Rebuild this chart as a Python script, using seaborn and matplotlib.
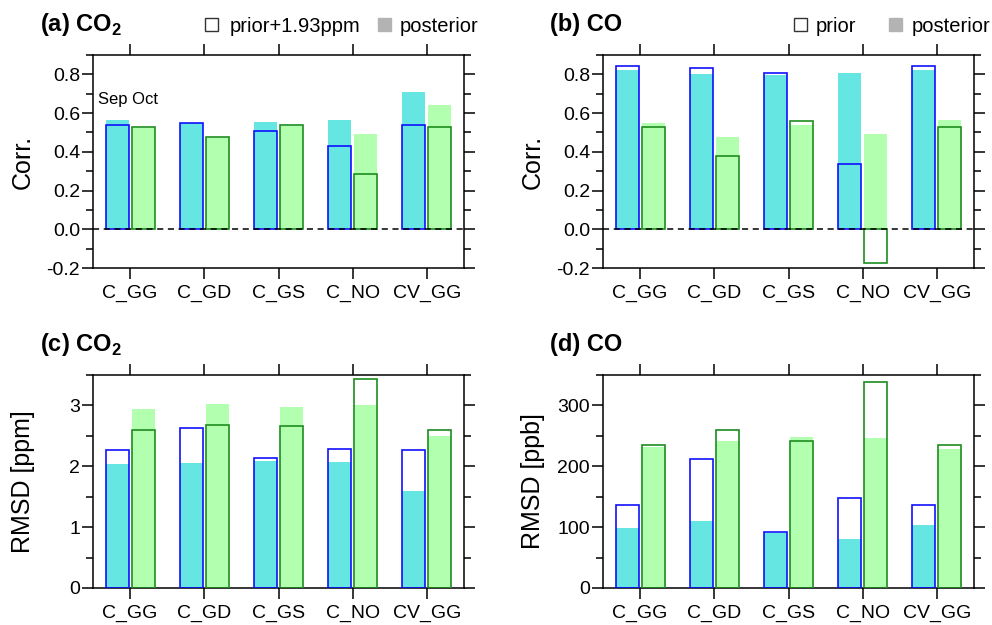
import numpy as np
import pandas as pd
import matplotlib
matplotlib.use("Agg")
import matplotlib.pyplot as plt
from matplotlib.patches import Rectangle
from matplotlib.ticker import MultipleLocator, FuncFormatter
import seaborn as sns

# ---------------- data ----------------
sites = ["C_GG", "C_GD", "C_GS", "C_NO", "CV_GG"]
months = ["Sep", "Oct"]

# (a) CO2 correlation
a_prior_sep = [0.54, 0.55, 0.51, 0.43, 0.54]
a_post_sep = [0.565, 0.55, 0.555, 0.565, 0.71]
a_prior_oct = [0.53, 0.475, 0.54, 0.285, 0.53]
a_post_oct = [0.525, 0.47, 0.535, 0.49, 0.643]

# (b) CO correlation
b_prior_sep = [0.843, 0.833, 0.805, 0.335, 0.843]
b_post_sep = [0.825, 0.80, 0.797, 0.805, 0.82]
b_prior_oct = [0.53, 0.38, 0.56, -0.176, 0.53]
b_post_oct = [0.548, 0.475, 0.537, 0.49, 0.565]

# (c) CO2 RMSD [ppm]
c_prior_sep = [2.27, 2.63, 2.13, 2.29, 2.27]
c_post_sep = [2.045, 2.055, 2.08, 2.07, 1.60]
c_prior_oct = [2.59, 2.68, 2.66, 3.43, 2.59]
c_post_oct = [2.94, 3.02, 2.98, 3.01, 2.50]

# (d) CO RMSD [ppb]
d_prior_sep = [136, 212, 92, 148, 136]
d_post_sep = [98, 110, 91, 80, 103]
d_prior_oct = [235, 259, 242, 338, 235]
d_post_oct = [232, 242, 248, 246, 229]

# ---------------- style ----------------
sns.set_style("ticks")
plt.rcParams["font.family"] = ["Liberation Sans", "DejaVu Sans"]
plt.rcParams["axes.unicode_minus"] = False
plt.rcParams["mathtext.fontset"] = "custom"
plt.rcParams["mathtext.rm"] = "Liberation Sans"
plt.rcParams["mathtext.bf"] = "Liberation Sans:bold"
plt.rcParams["text.color"] = "black"
plt.rcParams["axes.labelcolor"] = "black"
plt.rcParams["xtick.color"] = "black"
plt.rcParams["ytick.color"] = "black"

FILL_COLORS = ["#66e6e3", "#b3ffb0"]
EDGE_COLORS = ["#1010ff", "#1e8c1e"]

W, H = 992, 625
fig = plt.figure(figsize=(W / 100, H / 100), dpi=100)


def fx(px):
    return px / W


def fy(py):
    return 1 - py / H


def make_df(prior_sep, post_sep, prior_oct, post_oct):
    rows = []
    for i, s in enumerate(sites):
        rows.append({"site": s, "month": "Sep", "prior": prior_sep[i], "post": post_sep[i]})
    for i, s in enumerate(sites):
        rows.append({"site": s, "month": "Oct", "prior": prior_oct[i], "post": post_oct[i]})
    return pd.DataFrame(rows)


panels = [
    (93, 55, make_df(a_prior_sep, a_post_sep, a_prior_oct, a_post_oct), (-0.2, 0.9), 0.2, 0.1,
     "Corr.", r"(a) CO$_\mathbf{2}$", True, "{:.1f}"),
    (603, 55, make_df(b_prior_sep, b_post_sep, b_prior_oct, b_post_oct), (-0.2, 0.9), 0.2, 0.1,
     "Corr.", "(b) CO", True, "{:.1f}"),
    (93, 375, make_df(c_prior_sep, c_post_sep, c_prior_oct, c_post_oct), (0, 3.5), 1, 0.5,
     "RMSD [ppm]", r"(c) CO$_\mathbf{2}$", False, "{:.0f}"),
    (603, 375, make_df(d_prior_sep, d_post_sep, d_prior_oct, d_post_oct), (0, 350), 100, 50,
     "RMSD [ppb]", "(d) CO", False, "{:.0f}"),
]

AX_W, AX_H = 371, 213

for (lpx, tpx, df, ylim, major, minor, ylab, title, zline, fmt) in panels:
    ax = fig.add_axes([fx(lpx), fy(tpx + AX_H), AX_W / W, AX_H / H])
    sns.barplot(data=df, x="site", y="post", hue="month", hue_order=months,
                order=sites, palette=FILL_COLORS, saturation=1, width=0.7, gap=0.12,
                errorbar=None, linewidth=0, legend=False, ax=ax, zorder=2)
    sns.barplot(data=df, x="site", y="prior", hue="month", hue_order=months,
                order=sites, palette=EDGE_COLORS, saturation=1, width=0.7, gap=0.12,
                errorbar=None, fill=False, linewidth=1.2, legend=False, ax=ax, zorder=3)
    if zline:
        ax.axhline(0, color="black", lw=1.1, ls=(0, (4, 3)), zorder=4)
    ax.set_xlim(-0.5, 4.5)
    ax.set_ylim(*ylim)
    ax.yaxis.set_major_locator(MultipleLocator(major))
    ax.yaxis.set_minor_locator(MultipleLocator(minor))
    ax.yaxis.set_major_formatter(FuncFormatter(lambda v, p, f=fmt: f.format(v)))
    ax.set_xlabel("")
    ax.set_ylabel(ylab, fontsize=18)
    ax.yaxis.set_label_coords(-58 / AX_W, 0.5)
    ax.tick_params(axis="both", which="both", direction="out", top=True, right=True,
                   labeltop=False, labelright=False, width=1.1, colors="black")
    ax.tick_params(axis="both", which="major", length=7.8)
    ax.tick_params(axis="y", which="minor", length=5)
    ax.tick_params(axis="x", which="minor", top=False, bottom=False)
    ax.tick_params(axis="x", which="major", labelsize=14, pad=4)
    ax.tick_params(axis="y", which="major", labelsize=14, pad=1.5)
    for sp in ax.spines.values():
        sp.set_visible(True)
        sp.set_linewidth(1.1)
        sp.set_color("black")
    ax.grid(False)
    fig.text(fx(lpx - 53), fy(31.5 + (tpx - 55)), title, fontsize=17, fontweight="bold",
             ha="left", va="baseline")

# "Sep Oct" annotation in (a)
fig.text(fx(98), fy(104.3), "Sep Oct", fontsize=12, ha="left", va="baseline")


def legend_key(x0, filled, edge):
    w, h = 13, 13
    rect = Rectangle((fx(x0), fy(31)), w / W, h / H, transform=fig.transFigure,
                     facecolor="#b3b3b3" if filled else "white",
                     edgecolor=edge, linewidth=1.0)
    fig.add_artist(rect)


legend_key(205, False, "#333333")
fig.text(fx(230), fy(31.5), "prior+1.93ppm", fontsize=14.5, ha="left", va="baseline")
legend_key(378, True, "#b3b3b3")
fig.text(fx(400), fy(31.5), "posterior", fontsize=14.5, ha="left", va="baseline")

legend_key(794, False, "#333333")
fig.text(fx(816), fy(31.5), "prior", fontsize=14.5, ha="left", va="baseline")
legend_key(889, True, "#b3b3b3")
fig.text(fx(912), fy(31.5), "posterior", fontsize=14.5, ha="left", va="baseline")

fig.savefig("out.png", dpi=100)
